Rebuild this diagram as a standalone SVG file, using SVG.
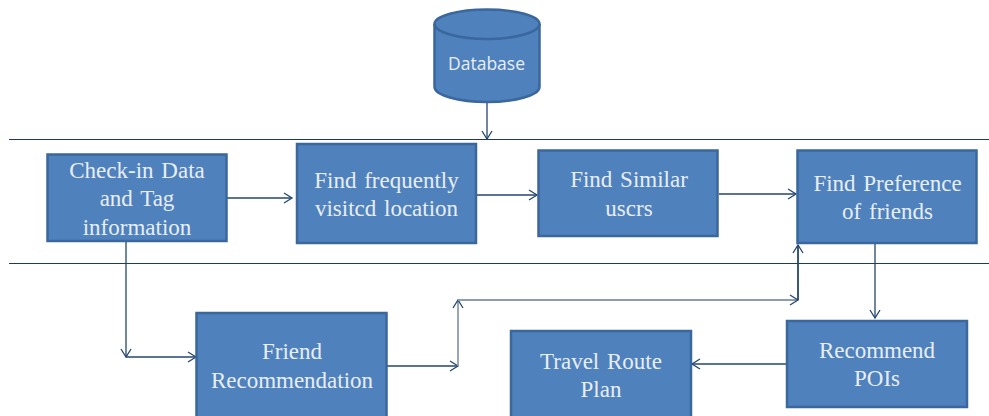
<svg xmlns="http://www.w3.org/2000/svg" width="989" height="416" viewBox="0 0 989 416">
<style>
.box{fill:#4f81bd;stroke:#3a679c;stroke-width:2.5}
.t{font-family:"Liberation Serif",serif;font-size:23px;fill:#e8eef6;text-anchor:middle;word-spacing:2px}
.rule{stroke:#1f3a5c;stroke-width:1.2;fill:none}
.c{stroke:#24466f;stroke-width:1.3;fill:none}
.g{stroke:#8c9db1;stroke-width:1.8;fill:none}
</style>
<defs>
<marker id="a" markerUnits="userSpaceOnUse" markerWidth="12" markerHeight="14" refX="9" refY="5.500" orient="auto" overflow="visible">
<path d="M1 0.500L9 5.500L1 10.500" fill="none" stroke="#24466f" stroke-width="1.300"/>
</marker>
</defs>
<g id="rules">
<path class="rule" d="M9 139.500H989M9 263.500H989"/>
</g>
<g id="connectors">
<path class="c" d="M487 102V139" marker-end="url(#a)"/>
<path class="c" d="M227 198H292" marker-end="url(#a)"/>
<path class="c" d="M476 195H537" marker-end="url(#a)"/>
<path class="c" d="M719 194H796" marker-end="url(#a)"/>
<path class="c" d="M126 241V357" marker-end="url(#a)"/>
<path class="c" d="M126 357H196" marker-end="url(#a)"/>
<path class="c" d="M387 366H458" marker-end="url(#a)"/>
<path class="g" d="M458 366V300" marker-end="url(#a)"/>
<path class="g" d="M458 300H798" marker-end="url(#a)"/>
<path class="c" style="stroke-width:1.8" d="M798 300V245" marker-end="url(#a)"/>
<path class="c" d="M875 243V318" marker-end="url(#a)"/>
<path class="c" d="M787 364H692" marker-end="url(#a)"/>
</g>
<g id="database">
<path class="box" d="M434.500 24V87C434.500 95 458 102 487 102S539.500 95 539.500 87V24C539.500 16 516 9.500 487 9.500S434.500 16 434.500 24Z"/>
<path class="box" style="fill:none" d="M434.500 24C434.500 32 458 39 487 39S539.500 32 539.500 24"/>
<text x="486.500" y="69.500" style="font-family:'Open Sans',sans-serif;font-size:17.500px;fill:#e8eef6;text-anchor:middle">Database</text>
</g>
<g id="check-in">
<rect class="box" x="47.500" y="154.500" width="179" height="86.500"/>
<text class="t" x="137" y="178">Check-in Data</text>
<text class="t" x="137" y="206">and Tag</text>
<text class="t" x="137" y="235">information</text>
</g>
<g id="frequent">
<rect class="box" x="297" y="144" width="179" height="99"/>
<text class="t" x="386.500" y="188">Find frequently</text>
<text class="t" x="386.500" y="216">visitcd location</text>
</g>
<g id="similar">
<rect class="box" x="538.500" y="150.500" width="179" height="85.500"/>
<text class="t" x="629" y="187">Find Similar</text>
<text class="t" x="629" y="216">uscrs</text>
</g>
<g id="preference">
<rect class="box" x="797.500" y="150.500" width="179" height="92.500"/>
<text class="t" x="887.500" y="191">Find Preference</text>
<text class="t" x="887.500" y="219">of friends</text>
</g>
<g id="recommend">
<rect class="box" x="787" y="321" width="180" height="86"/>
<text class="t" x="877" y="358">Recommend</text>
<text class="t" x="877" y="386">POIs</text>
</g>
<g id="travel">
<rect class="box" x="511" y="331" width="180" height="95"/>
<text class="t" x="601" y="369">Travel Route</text>
<text class="t" x="601" y="397">Plan</text>
</g>
<g id="friend">
<rect class="box" x="196.500" y="313" width="190" height="113"/>
<text class="t" x="292" y="359">Friend</text>
<text class="t" x="292" y="388">Recommendation</text>
</g>
</svg>
